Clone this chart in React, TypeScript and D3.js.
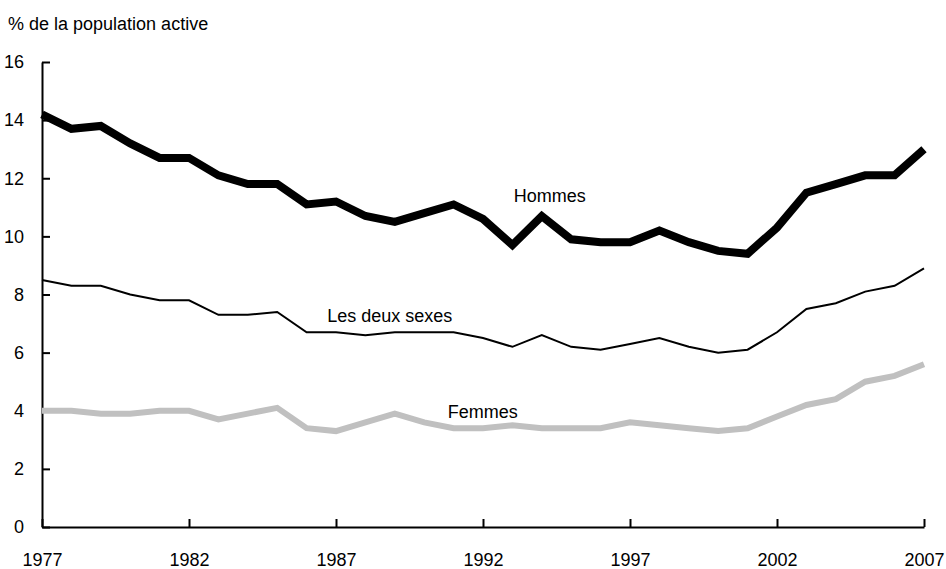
import React, { useEffect, useRef } from 'react';
import { select, scaleLinear, axisBottom, axisLeft, line } from 'd3';

const years = [
  1977, 1978, 1979, 1980, 1981, 1982, 1983, 1984, 1985, 1986, 1987, 1988, 1989, 1990, 1991, 1992,
  1993, 1994, 1995, 1996, 1997, 1998, 1999, 2000, 2001, 2002, 2003, 2004, 2005, 2006, 2007,
];
const hommes = [
  14.2, 13.7, 13.8, 13.2, 12.7, 12.7, 12.1, 11.8, 11.8, 11.1, 11.2, 10.7, 10.5, 10.8, 11.1, 10.6,
  9.7, 10.7, 9.9, 9.8, 9.8, 10.2, 9.8, 9.5, 9.4, 10.3, 11.5, 11.8, 12.1, 12.1, 13.0,
];
const deuxSexes = [
  8.5, 8.3, 8.3, 8.0, 7.8, 7.8, 7.3, 7.3, 7.4, 6.7, 6.7, 6.6, 6.7, 6.7, 6.7, 6.5,
  6.2, 6.6, 6.2, 6.1, 6.3, 6.5, 6.2, 6.0, 6.1, 6.7, 7.5, 7.7, 8.1, 8.3, 8.9,
];
const femmes = [
  4.0, 4.0, 3.9, 3.9, 4.0, 4.0, 3.7, 3.9, 4.1, 3.4, 3.3, 3.6, 3.9, 3.6, 3.4, 3.4,
  3.5, 3.4, 3.4, 3.4, 3.6, 3.5, 3.4, 3.3, 3.4, 3.8, 4.2, 4.4, 5.0, 5.2, 5.6,
];
const xTicks = [1977, 1982, 1987, 1992, 1997, 2002, 2007];
const yTicks = [0, 2, 4, 6, 8, 10, 12, 14, 16];

const width = 946;
const height = 569;
const font = "'Liberation Sans', Arial, sans-serif";

function App() {
  const svgRef = useRef<SVGSVGElement>(null);

  useEffect(() => {
    const svg = select(svgRef.current);
    svg.selectAll('*').remove();

    const x = scaleLinear().domain([1977, 2007]).range([42, 924]);
    const y = scaleLinear().domain([0, 16]).range([527, 62]);

    // axes, ticks pointing inward
    const gx = svg
      .append('g')
      .attr('transform', `translate(0,${y(0)})`)
      .call(axisBottom(x).tickValues(xTicks).tickFormat((d) => String(d)).tickSizeInner(-8).tickSizeOuter(0).tickPadding(26));
    const gy = svg
      .append('g')
      .attr('transform', `translate(${x(1977)},0)`)
      .call(axisLeft(y).tickValues(yTicks).tickSizeInner(-8).tickSizeOuter(0).tickPadding(18));
    [gx, gy].forEach((g) => {
      g.selectAll('path, line').attr('stroke', '#000').attr('stroke-width', 2);
      g.selectAll('text').attr('font-family', font).attr('font-size', 18).attr('fill', '#000');
    });

    const series = [
      { values: femmes, color: '#c0c0c0', w: 6 },
      { values: deuxSexes, color: '#000', w: 2 },
      { values: hommes, color: '#000', w: 8 },
    ];
    const gen = line<number>()
      .x((_, i) => x(years[i]))
      .y((d) => y(d));
    series.forEach((s) => {
      svg
        .append('path')
        .datum(s.values)
        .attr('fill', 'none')
        .attr('stroke', s.color)
        .attr('stroke-width', s.w)
        .attr('d', gen);
    });

    const labels = [
      { text: 'Hommes', yr: 1993.05, v: 11.2 },
      { text: 'Les deux sexes', yr: 1986.7, v: 7.05 },
      { text: 'Femmes', yr: 1990.8, v: 3.75 },
    ];
    labels.forEach((l) => {
      svg
        .append('text')
        .attr('x', x(l.yr))
        .attr('y', y(l.v))
        .attr('font-family', font)
        .attr('font-size', 18)
        .text(l.text);
    });

    svg
      .append('text')
      .attr('x', 8)
      .attr('y', 30)
      .attr('font-family', font)
      .attr('font-size', 18)
      .text('% de la population active');
  }, []);

  return (
    <svg
      ref={svgRef}
      width={width}
      height={height}
      style={{ position: 'absolute', left: 0, top: 0, background: '#fff' }}
    />
  );
}

export default App;
